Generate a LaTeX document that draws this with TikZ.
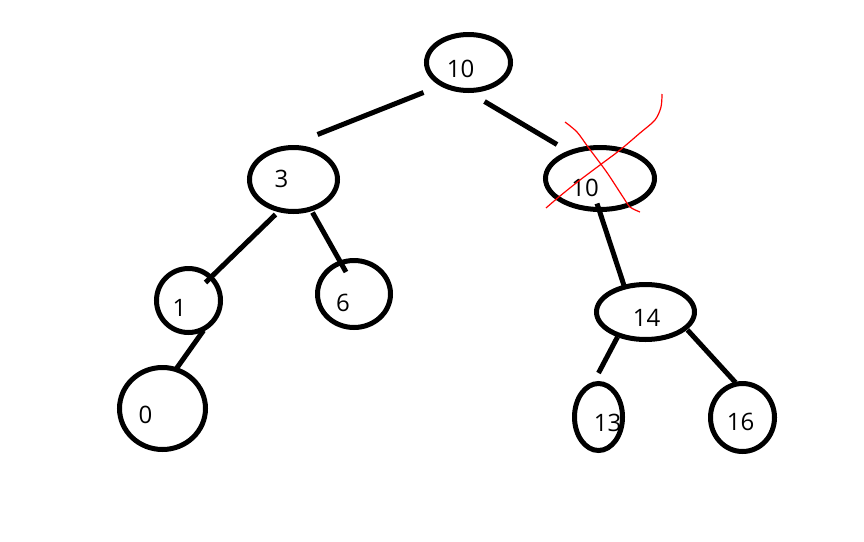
\documentclass[tikz,border=0pt]{standalone}
\usepackage{fontspec}
\setmainfont{Open Sans}
\usetikzlibrary{shapes.geometric,calc}
\begin{document}
\begin{tikzpicture}[x=1pt,y=-1pt,font=\fontsize{24}{28}\selectfont]
    \tikzstyle{vertex} = [ellipse, draw, line width=5pt, inner sep=0pt]
    \tikzstyle{edge} = [line width=5pt]
    \tikzstyle{scribble} = [red, line width=1.2pt]
    \useasboundingbox (0,0) rectangle (864,541);

    \node (root) [vertex, minimum width=84pt, minimum height=56pt, label={[xshift=-8pt,yshift=-6pt]center:10}] at (468.5,62.5) {};
    \node (three) [vertex, minimum width=88pt, minimum height=64pt, label={[xshift=-12pt,yshift=1pt]center:3}] at (293.5,179.5) {};
    \node (ten) [vertex, minimum width=109pt, minimum height=62pt, label={[xshift=-15pt,yshift=-9pt]center:10}] at (600,178.5) {};
    \node (one) [vertex, minimum width=64pt, minimum height=64pt, label={[xshift=-9pt,yshift=-7pt]center:1}] at (188.5,300.5) {};
    \node (six) [vertex, minimum width=73pt, minimum height=67pt, label={[xshift=-11pt,yshift=-9pt]center:6}] at (354,294) {};
    \node (zero) [vertex, minimum width=86pt, minimum height=82pt, label={[xshift=-17pt,yshift=-6pt]center:0}] at (162.5,408.5) {};
    \node (fourteen) [vertex, minimum width=98pt, minimum height=55pt, label={[xshift=1pt,yshift=-6pt]center:14}] at (645.5,312) {};
    \node (thirteen) [vertex, minimum width=48pt, minimum height=67pt, label={[xshift=9pt,yshift=-6pt]center:13}] at (598.5,417) {};
    \node (sixteen) [vertex, minimum width=64pt, minimum height=68pt, label={[xshift=-2pt,yshift=-4pt]center:16}] at (742.5,417.5) {};

    \draw [edge] ($(root)+(-45,30)$) -- ($(three)+(24,-45)$);
    \draw [edge] ($(root)+(16,39)$) -- ($(ten)+(-43,-34)$);
    \draw [edge] ($(three)+(-18,35)$) -- ($(one)+(17,-18)$);
    \draw [edge] ($(three)+(19,33)$) -- ($(six)+(-8,-22)$);
    \draw [edge] ($(one)+(15,30)$) -- ($(zero)+(14,-40)$);
    \draw [edge] ($(ten)+(-3,25)$) -- ($(fourteen)+(-21,-25)$);
    \draw [edge] ($(fourteen)+(-28,25)$) -- ($(thirteen)+(0,-44)$);
    \draw [edge] ($(fourteen)+(42,18)$) -- ($(sixteen)+(-7,-35)$);

    % crossed out
    \draw [scribble] plot[smooth] coordinates {(565,122) (577,132) (588,147) (603,167) (610,177) (623,197) (630,207) (640,212)};
    \draw [scribble] plot[smooth] coordinates {(662,94) (661,107) (655,120) (640,133) (620,150) (600,165) (580,180) (560,196) (546,208)};

\end{tikzpicture}
\end{document}
